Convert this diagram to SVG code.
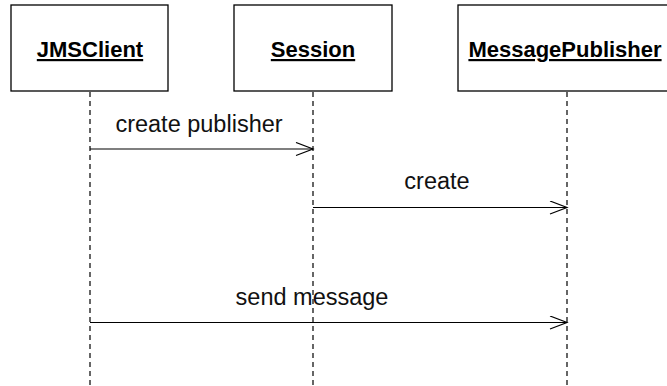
<svg xmlns="http://www.w3.org/2000/svg" width="667" height="386" viewBox="0 0 667 386">
<style>
.box{fill:#fff;stroke:#000;stroke-width:1.3}
.name{font-family:"Liberation Sans",Arial,sans-serif;font-weight:bold;font-size:22px;text-anchor:middle;text-decoration:underline}
.life{stroke:#000;stroke-width:1.2;stroke-dasharray:5 4;fill:none}
.msg{stroke:#000;stroke-width:1.2;fill:none}
.lbl{font-family:"Liberation Sans",Arial,sans-serif;font-size:23.5px;text-anchor:middle;fill:#111}
</style>
<defs>
<marker id="open" markerUnits="userSpaceOnUse" markerWidth="20" markerHeight="16" refX="18" refY="7" orient="auto">
<path d="M1,0.5 L18,7 L1,13.5" fill="none" stroke="#000" stroke-width="1.2"/>
</marker>
</defs>
<rect width="667" height="386" fill="#fff"/>
<g id="JMSClient">
<rect class="box" x="11" y="5" width="157" height="86"/>
<text class="name" x="90" y="57">JMSClient</text>
</g>
<g id="Session">
<rect class="box" x="234" y="5" width="158" height="86"/>
<text class="name" x="313" y="57">Session</text>
</g>
<g id="MessagePublisher">
<rect class="box" x="458" y="5" width="220" height="86"/>
<text class="name" x="565" y="57">MessagePublisher</text>
</g>
<g id="connectors">
<line class="life" x1="90" y1="92" x2="90" y2="386"/>
<line class="life" x1="313" y1="92" x2="313" y2="386"/>
<line class="life" x1="567" y1="92" x2="567" y2="386"/>
<line class="msg" x1="90" y1="149" x2="313" y2="149" marker-end="url(#open)"/>
<text class="lbl" x="199" y="132">create publisher</text>
<line class="msg" x1="313" y1="207.5" x2="567" y2="207.5" marker-end="url(#open)"/>
<text class="lbl" x="437" y="189">create</text>
<line class="msg" x1="90" y1="322.5" x2="567" y2="322.5" marker-end="url(#open)"/>
<text class="lbl" x="312" y="305">send message</text>
</g>
</svg>
